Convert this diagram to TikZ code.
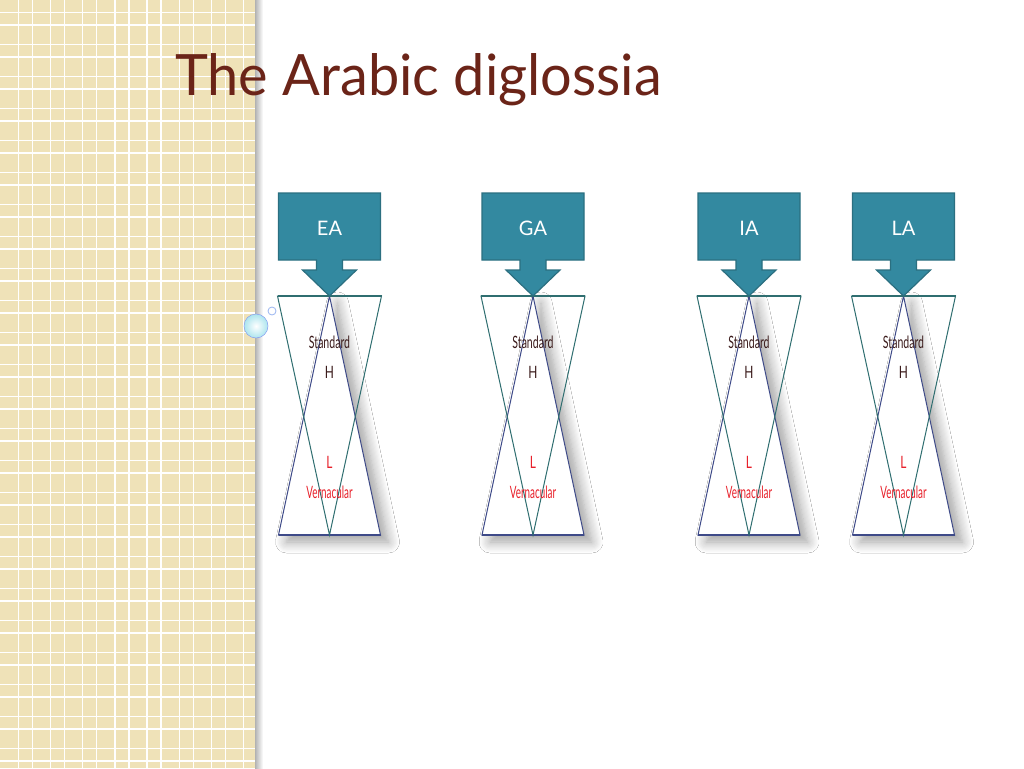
\documentclass[tikz,border=0pt]{standalone}
\usepackage{fontspec}
\setmainfont{Lato}
\usetikzlibrary{shadows.blur}
\definecolor{beige}{HTML}{EFE2B8}
\definecolor{titlered}{HTML}{6B2418}
\definecolor{boxfill}{HTML}{3389A0}
\definecolor{boxline}{HTML}{2B6F80}
\definecolor{tealline}{HTML}{2F6E70}
\definecolor{navyline}{HTML}{3E4A88}
\definecolor{hcol}{HTML}{3A1A1A}
\definecolor{lcol}{HTML}{E8202A}
\definecolor{bubble}{HTML}{BFE2EC}
\begin{document}
\begin{tikzpicture}[x=1pt,y=-1pt,
  gridline/.style={white,line width=1.3pt},
  callout/.style={fill=boxfill,draw=boxline,line width=1.2pt,line join=miter},
  boxlabel/.style={text=white,font=\fontsize{20}{24}\selectfont},
  downtri/.style={draw=tealline,line width=1pt},
  uptri/.style={draw=navyline,line width=1pt},
  hlabel/.style={text=hcol,font=\fontsize{17}{20}\selectfont},
  llabel/.style={text=lcol,font=\fontsize{17}{20}\selectfont},
  shadowed/.style={blur shadow={shadow xshift=8pt,shadow yshift=-7pt,shadow blur radius=11pt,shadow blur steps=10,shadow opacity=38}}
]
\useasboundingbox (0,0) rectangle (1024,768);
\fill[white] (0,0) rectangle (1024,768);
% left panel
\fill[beige] (0,0) rectangle (255,768);
\foreach \k in {0,...,7} {
  \draw[gridline] (18.3+32.2*\k,0) -- (18.3+32.2*\k,768);
  \draw[gridline] (32.3+32.2*\k,0) -- (32.3+32.2*\k,768);
}
\foreach \k in {0,...,23} {
  \draw[gridline] (0,12.7+32*\k) -- (255,12.7+32*\k);
  \draw[gridline] (0,25+32*\k) -- (255,25+32*\k);
}
\shade[left color=black!30,right color=white] (255,0) rectangle (263,768);
% title
\node[anchor=base west,text=titlered,inner sep=0pt] (title) at (175,95)
  {\fontsize{57}{64}\selectfont\scalebox{0.98}[1]{The Arabic diglossia}};
% bubbles
\draw[draw=bubble!80!blue,fill=white,line width=0.8pt] (272,311) circle (4);
\shade[inner color=white,outer color=bubble!90!cyan,draw=bubble!70!blue,line width=0.5pt] (256,326) circle (12);
% columns
\foreach \cx/\lab [count=\i] in {329.5/EA,533/GA,749/IA,903.5/LA} {
  \path[shadowed,fill=white] (\cx,296) -- (\cx+51,535) -- (\cx-51,535) -- cycle;
  \draw[uptri] (\cx,296) -- (\cx+51,535) -- (\cx-51,535) -- cycle;
  \draw[navyline,line width=2pt] (\cx-51,535) -- (\cx+51,535);
  \draw[downtri] (\cx-52,296) -- (\cx+52,296) -- (\cx,535) -- cycle;
  \draw[tealline,line width=2.2pt] (\cx-52,296) -- (\cx+52,296);
  \draw[callout] (\cx-51,193) -- (\cx+51,193) -- (\cx+51,260) -- (\cx+13,260) -- (\cx+13,270)
     -- (\cx+27,270) -- (\cx,296) -- (\cx-27,270) -- (\cx-13,270) -- (\cx-13,260) -- (\cx-51,260) -- cycle;
  \node[boxlabel] (b\i) at (\cx,228) {\lab};
  \node[hlabel] (s\i) at (\cx,342) {\scalebox{0.62}[1]{Standard}};
  \node[hlabel] (h\i) at (\cx,372) {\scalebox{0.7}[1]{H}};
  \node[llabel] (l\i) at (\cx,462) {\scalebox{0.7}[1]{L}};
  \node[llabel] (v\i) at (\cx,492) {\scalebox{0.58}[1]{Vernacular}};
}
\end{tikzpicture}
\end{document}
